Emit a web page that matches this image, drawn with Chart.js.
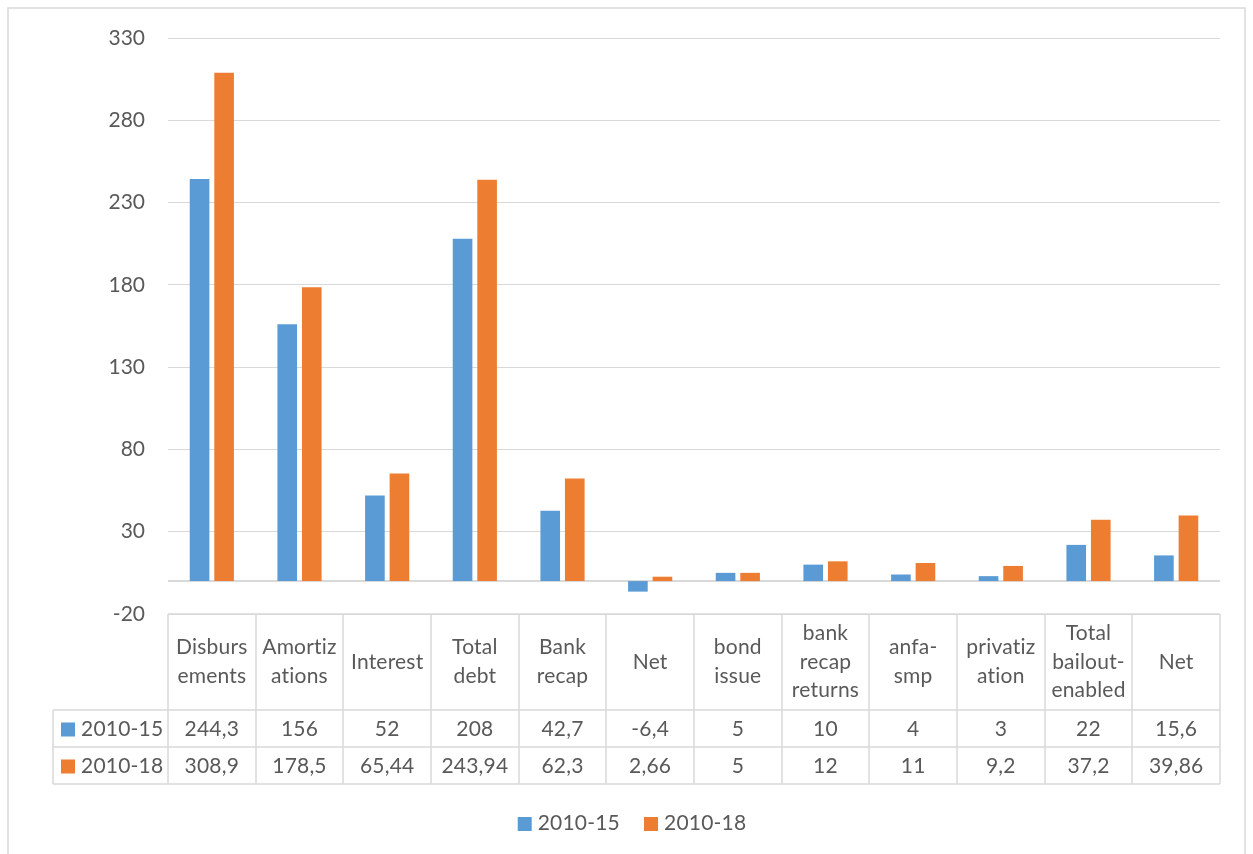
<!DOCTYPE html>
<html>
<head>
<meta charset="utf-8">
<script src="https://cdn.jsdelivr.net/npm/chart.js@4.4.1/dist/chart.umd.min.js"></script>
<style>
	html, body { margin: 0; padding: 0; background: #fff; }
	#wrap { position: relative; width: 1253px; height: 854px; }
</style>
</head>
<body>
<div id="wrap"><canvas id="chart" width="1253" height="854"></canvas></div>
<script>
// Categories as they wrap in the data table header
var categories = [
	['Disburs', 'ements'], ['Amortiz', 'ations'], ['Interest'], ['Total', 'debt'],
	['Bank', 'recap'], ['Net'], ['bond', 'issue'], ['bank', 'recap', 'returns'],
	['anfa-', 'smp'], ['privatiz', 'ation'], ['Total', 'bailout-', 'enabled'], ['Net']
];
var seriesNames = ['2010-15', '2010-18'];
var values1015 = [244.3, 156, 52, 208, 42.7, -6.4, 5, 10, 4, 3, 22, 15.6];
var values1018 = [308.9, 178.5, 65.44, 243.94, 62.3, 2.66, 5, 12, 11, 9.2, 37.2, 39.86];
var yMin = -20, yMax = 330, yStep = 50;

var colors = ['#5B9BD5', '#ED7D31'];
var textColor = '#595959';
var lineColor = '#d9d9d9';
var fontFamily = 'Lato, "Open Sans", sans-serif';
var fontSize = 21;

function fmt(v) {
	return String(v).replace('.', ',');
}

// Draws the chart frame, zero line, data table and bottom legend
var dataTablePlugin = {
	id: 'dataTable',
	beforeDatasetsDraw: function(chart) {
		var ctx = chart.ctx, area = chart.chartArea;
		var y0 = Math.round(chart.scales.y.getPixelForValue(0));
		ctx.save();
		ctx.strokeStyle = lineColor;
		ctx.lineWidth = 2;
		ctx.beginPath();
		ctx.moveTo(area.left, y0);
		ctx.lineTo(area.right, y0);
		ctx.stroke();
		ctx.restore();
	},
	afterDraw: function(chart) {
		var ctx = chart.ctx, area = chart.chartArea;
		var n = categories.length;
		var colW = (area.right - area.left) / n;
		var top = area.bottom;
		var headBottom = top + 96;
		var rowH = 37;
		var tableBottom = headBottom + rowH * 2;
		var keyLeft = 53;

		ctx.save();
		// outer frame
		ctx.strokeStyle = lineColor;
		ctx.lineWidth = 1.5;
		ctx.strokeRect(8, 8, 1237, 870);

		// table grid
		ctx.beginPath();
		ctx.moveTo(area.left, top);
		ctx.lineTo(area.right, top);
		for (var r = 0; r <= 2; r++) {
			ctx.moveTo(keyLeft, headBottom + r * rowH);
			ctx.lineTo(area.right, headBottom + r * rowH);
		}
		ctx.moveTo(keyLeft, headBottom);
		ctx.lineTo(keyLeft, tableBottom);
		for (var c = 0; c <= n; c++) {
			var x = Math.round(area.left + c * colW);
			ctx.moveTo(x, top);
			ctx.lineTo(x, tableBottom);
		}
		ctx.stroke();

		// header text (tiny letter spacing keeps Lato from making ligatures)
		ctx.fillStyle = textColor;
		ctx.font = fontSize + 'px ' + fontFamily;
		if ('letterSpacing' in ctx) ctx.letterSpacing = '0.2px';
		ctx.textAlign = 'center';
		ctx.textBaseline = 'middle';
		var lineH = 28.7;
		var headMid = (top + headBottom) / 2;
		categories.forEach(function(lines, i) {
			var cx = area.left + (i + 0.5) * colW;
			var y = headMid - (lines.length - 1) * lineH / 2;
			lines.forEach(function(t, k) {
				ctx.fillText(t, cx, y + k * lineH);
			});
		});

		// rows
		var rows = [values1015, values1018];
		rows.forEach(function(vals, r) {
			var cy = headBottom + r * rowH + rowH / 2 + 1;
			ctx.fillStyle = colors[r];
			ctx.fillRect(61, cy - 7, 14, 14);
			ctx.fillStyle = textColor;
			ctx.textAlign = 'left';
			ctx.fillText(seriesNames[r], 81, cy);
			ctx.textAlign = 'center';
			vals.forEach(function(v, i) {
				ctx.fillText(fmt(v), area.left + (i + 0.5) * colW, cy);
			});
		});

		// legend
		var legY = 823;
		var items = seriesNames.map(function(s) { return ctx.measureText(s).width; });
		var gap = 24, key = 14, keyGap = 6;
		var total = items.reduce(function(a, w) { return a + key + keyGap + w; }, 0) + gap;
		var lx = 632 - total / 2;
		ctx.textAlign = 'left';
		seriesNames.forEach(function(s, i) {
			ctx.fillStyle = colors[i];
			ctx.fillRect(lx, legY - 6, key, key);
			ctx.fillStyle = textColor;
			ctx.fillText(s, lx + key + keyGap, legY);
			lx += key + keyGap + items[i] + gap;
		});
		ctx.restore();
	}
};

function build() {
	var ctx = document.getElementById('chart').getContext('2d');
	window.chartInstance = new Chart(ctx, {
		type: 'bar',
		data: {
			labels: categories,
			datasets: [
				{ label: seriesNames[0], data: values1015, backgroundColor: colors[0] },
				{ label: seriesNames[1], data: values1018, backgroundColor: colors[1] }
			]
		},
		options: {
			responsive: false,
			animation: false,
			layout: { padding: { left: 52, right: 33, top: 38, bottom: 240 } },
			datasets: { bar: { categoryPercentage: 0.56, barPercentage: 0.8 } },
			plugins: { legend: { display: false }, tooltip: { enabled: false } },
			scales: {
				x: { display: false },
				y: {
					min: yMin,
					max: yMax,
					afterFit: function(scale) { scale.width = 116; },
					border: { display: false },
					grid: { color: lineColor, lineWidth: 1, drawTicks: false },
					ticks: {
						stepSize: yStep,
						padding: 23,
						color: textColor,
						font: { family: fontFamily, size: fontSize }
					}
				}
			}
		},
		plugins: [dataTablePlugin]
	});
}

if (document.fonts && document.fonts.load) {
	document.fonts.load(fontSize + 'px Lato').then(build, build);
} else {
	build();
}
</script>
</body>
</html>
